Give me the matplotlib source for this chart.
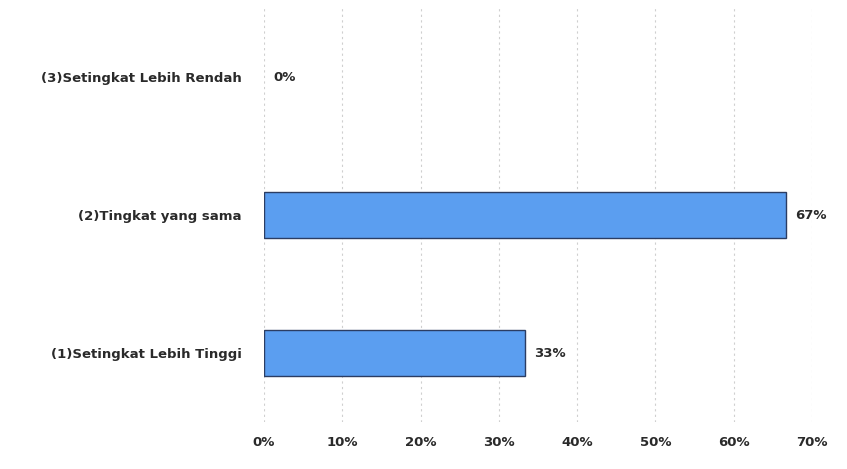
import matplotlib.pyplot as plt
from matplotlib.ticker import FuncFormatter

categories = ['(1)Setingkat Lebih Tinggi', '(2)Tingkat yang sama', '(3)Setingkat Lebih Rendah']
values = [33.3, 66.7, 0.0]
labels = ['33%', '67%', '0%']
xticks = [0, 10, 20, 30, 40, 50, 60, 70]

plt.rcParams['font.family'] = ['DejaVu Sans']

fig = plt.figure(figsize=(8.47, 4.69), dpi=100)
ax = fig.add_axes([264 / 847, 1 - 422 / 469, 548 / 847, 414 / 469])

ypos = list(range(len(categories)))
bars = ax.barh(ypos, values, height=0.33, color='#5b9ef0', edgecolor='#2b3d63', linewidth=1.0, zorder=3)
for b, v in zip(bars, values):
    if v == 0:
        b.set_linewidth(0)

for y, v, lab in zip(ypos, values, labels):
    ax.text(v + 1.2, y, lab, va='center', ha='left', fontsize=9.5,
            fontweight='bold', color='#2a2a2a')

ax.set_xlim(0, 70)
ax.set_ylim(-0.5, 2.5)
ax.set_xticks(xticks)
ax.xaxis.set_major_formatter(FuncFormatter(lambda x, p: f'{x:.0f}%'))
ax.set_yticks(ypos)
ax.set_yticklabels(categories)
ax.tick_params(axis='both', length=0, labelsize=9.5, colors='#2a2a2a')
ax.tick_params(axis='x', pad=10)
ax.tick_params(axis='y', pad=16)
for t in ax.get_xticklabels() + ax.get_yticklabels():
    t.set_fontweight('bold')

ax.grid(axis='x', color='#cfcfcf', linestyle=(0, (2, 3)), linewidth=0.8, zorder=0)
for s in ax.spines.values():
    s.set_visible(False)

fig.savefig('out.png', dpi=100, facecolor='white')
